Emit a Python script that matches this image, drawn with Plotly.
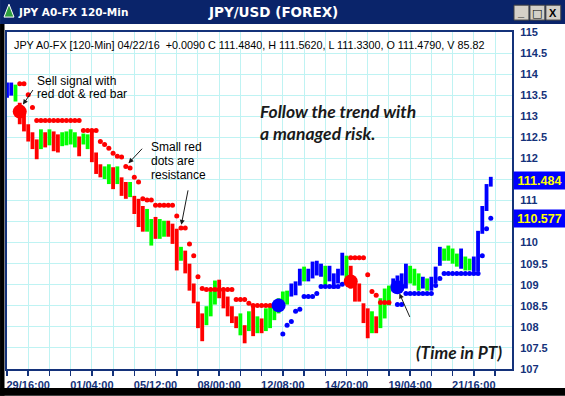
import plotly.graph_objects as go

# ---------------- data ----------------
# bar slots: one slot unit ~ one 120-min bar, one drawn bar every 2 slots
bar_slot = list(range(0, 230, 2))

bar_high = [
    113.80, 113.80, 113.75, 113.32, 113.16, 112.81, 112.62, 112.45, 112.69, 112.62,
    112.69, 112.64, 112.57, 112.62, 112.64, 112.69, 112.62, 112.52, 112.59, 112.57,
    112.64, 112.14, 111.86, 111.81, 111.86, 111.79, 111.81, 111.55, 111.44, 111.44,
    111.11, 111.04, 110.87, 110.80, 110.56, 110.61, 110.56, 110.52, 110.52, 110.45,
    110.33, 109.90, 109.81, 109.50, 109.03, 108.60, 108.32, 108.49, 108.84, 109.10,
    109.12, 108.91, 108.72, 108.49, 108.25, 108.32, 108.04, 108.37, 108.51, 108.25,
    108.20, 108.44, 108.49, 108.56, 108.68, 108.84, 108.86, 109.03, 109.08, 109.38,
    109.43, 109.38, 109.55, 109.57, 109.50, 109.45, 109.45, 109.27, 109.38, 109.76,
    109.69, 109.45, 109.15, 109.03, 108.56, 108.44, 108.37, 108.25, 108.68, 108.91,
    108.98, 109.15, 109.22, 109.27, 109.50, 109.45, 109.38, 109.27, 109.19, 109.15,
    109.19, 109.43, 109.90, 109.86, 109.93, 109.86, 109.74, 109.86, 109.67, 109.62,
    109.67, 110.28, 110.87, 111.39, 111.562,
]

bar_low = [
    113.44, 113.49, 113.35, 112.81, 112.64, 112.40, 112.22, 111.98, 112.22, 112.26,
    112.31, 112.17, 112.14, 112.29, 112.31, 112.33, 112.26, 112.05, 112.33, 112.22,
    111.91, 111.63, 111.55, 111.51, 111.39, 111.27, 111.39, 111.11, 111.04, 111.08,
    110.68, 110.37, 110.26, 110.26, 109.93, 110.09, 110.09, 110.14, 110.14, 109.97,
    109.34, 109.57, 109.27, 108.86, 108.56, 107.97, 107.66, 108.04, 108.25, 108.53,
    108.68, 108.44, 108.25, 108.09, 107.97, 107.80, 107.61, 107.90, 107.78, 107.85,
    107.85, 107.90, 107.97, 108.16, 108.32, 108.49, 108.53, 108.72, 108.75, 108.98,
    109.08, 109.08, 109.15, 109.22, 109.19, 108.98, 109.08, 108.91, 109.03, 109.22,
    109.08, 108.91, 108.60, 108.60, 108.09, 107.73, 107.85, 107.85, 107.97, 108.20,
    108.51, 108.84, 108.84, 108.86, 108.91, 109.03, 108.98, 108.86, 108.91, 108.86,
    108.86, 109.03, 109.45, 109.57, 109.57, 109.50, 109.43, 109.38, 109.34, 109.34,
    109.31, 109.31, 110.21, 110.75, 111.33,
]

# bar colour state: R = sell (red), G = neutral (green), B = buy (blue)
bar_state = list(
    "BBGRRRRRGR" "GRRGGGGRGG" "RRRGGRGRRG" "RRRGGRGGRR" "RGRRRRRGGG"
    "RRRRRGRGRG" "RGGGGGGBBB" "GBBBBGBBBB" "GRRRRRGRGG" "GBBBBGGGBG"
    "BBBGGGGBGG" "BBBBB"
)

N = None
red_stop = [
    N, N, N, 113.77, 113.77, 113.51, 113.21, 112.90, 112.90, 112.90,
    112.90, 112.90, 112.90, 112.90, 112.90, 112.90, 112.90, 112.90, 112.66, 112.66,
    112.66, 112.66, 112.40, 112.33, 112.24, 112.12, 112.05, 112.03, 111.81, 111.77,
    111.55, 111.44, 111.04, 111.01, 111.01, 110.89, 110.89, 110.89, 110.89, 110.89,
    110.63, 110.35, 110.35, 109.97, 109.69, 109.19, 108.91, 108.89, 108.89, 108.89,
    108.89, 108.89, 108.89, 108.89, 108.65, 108.65, 108.65, 108.56, 108.51, 108.51,
    108.51, 108.51, 108.51, 108.51, N, N, N, N, N, N,
    N, N, N, N, N, N, N, N, N, N,
    N, 109.64, 109.64, 109.64, 109.64, 109.24, 108.84, 108.75, 108.58, 108.58,
    108.58, N, N, N, N, N, N, N, N, N,
    N, N, N, N, N, N, N, N, N, N,
    N, N, N, N, N,
]

blue_stop = [
    N, N, N, N, N, N, N, N, N, N,
    N, N, N, N, N, N, N, N, N, N,
    N, N, N, N, N, N, N, N, N, N,
    N, N, N, N, N, N, N, N, N, N,
    N, N, N, N, N, N, N, N, N, N,
    N, N, N, N, N, N, N, N, N, N,
    N, N, N, N, N, 107.83, 108.04, 108.13, 108.37, 108.42,
    108.72, 108.72, 108.72, 108.79, 108.96, 108.96, 108.96, 108.96, 108.96, 109.01,
    N, N, N, N, N, N, N, N, N, N,
    N, N, 108.53, 108.53, 108.79, 108.79, 108.79, 108.79, 108.79, 108.79,
    108.79, 108.98, 109.15, 109.27, 109.27, 109.27, 109.27, 109.27, 109.27, 109.27,
    109.27, 109.27, 109.69, 110.33, 110.577,
]

signal_slot = [6, 128, 162, 184]
signal_price = [113.11, 108.51, 109.08, 108.94]
signal_side = ["sell", "buy", "sell", "buy"]

x_tick_slots = [0, 10, 20, 30, 40, 50, 60, 70, 80, 90, 100, 110,
                120, 130, 140, 150, 160, 170, 180, 190, 200, 210, 220, 230]
x_tick_labels = ["", "29/16:00", "", "", "01/04:00", "", "", "05/12:00", "", "",
                 "08/00:00", "", "", "12/08:00", "", "", "14/20:00", "", "",
                 "19/04:00", "", "", "21/16:00", ""]
y_tick_vals = [107, 107.5, 108, 108.5, 109, 109.5, 110, 110.5, 111, 111.5,
               112, 112.5, 113, 113.5, 114, 114.5, 115]
# 110.5 and 111.5 sit under the price flags
y_tick_text = ["107", "107.5", "108", "108.5", "109", "109.5", "110", "",
               "111", "", "112", "112.5", "113", "113.5", "114", "114.5", "115"]

last_close = 111.484
last_stop = 110.577
info_line = ("JPY A0-FX [120-Min] 04/22/16  +0.0090 C 111.4840, H 111.5620, "
             "L 111.3300, O 111.4790, V 85.82")

# ---------------- styling / layout helpers ----------------
W, H = 565, 396
L, R, T, B = 5, 512, 32, 371
NAVY = "#14327A"
GRID = "#BFF3F3"
COL = {"R": "#FF0000", "G": "#00FF00", "B": "#0000FF"}
SIDE_COL = {"sell": "#FF0000", "buy": "#0000FF"}
ARIAL = "Liberation Sans, Arial, sans-serif"
HUMAN = "Lato, Open Sans, sans-serif"


def px(x):
    return (x - L) / (R - L)


def py(y):
    return (B - y) / (B - T)


fig = go.Figure()

fig.add_trace(go.Bar(
    x=bar_slot,
    y=[h - l for h, l in zip(bar_high, bar_low)],
    base=bar_low,
    width=1.8,
    marker=dict(color=[COL[s] for s in bar_state], line=dict(width=0)),
    hoverinfo="skip",
))

fig.add_trace(go.Scatter(
    x=bar_slot, y=red_stop, mode="markers",
    marker=dict(color="#FF0000", size=5), hoverinfo="skip"))
fig.add_trace(go.Scatter(
    x=bar_slot, y=blue_stop, mode="markers",
    marker=dict(color="#0000FF", size=5), hoverinfo="skip"))
fig.add_trace(go.Scatter(
    x=signal_slot, y=signal_price, mode="markers",
    marker=dict(color=[SIDE_COL[s] for s in signal_side], size=14),
    hoverinfo="skip"))

shapes = []
# title bar
shapes.append(dict(type="rect", xref="paper", yref="paper",
                   x0=px(-2), x1=px(567), y0=py(24), y1=py(-2),
                   fillcolor="#0A246A", line=dict(width=0), layer="above"))
# window borders
shapes.append(dict(type="rect", xref="paper", yref="paper",
                   x0=px(-2), x1=px(2.5), y0=py(398), y1=py(24),
                   fillcolor="#000000", line=dict(width=0), layer="above"))
shapes.append(dict(type="rect", xref="paper", yref="paper",
                   x0=px(-2), x1=px(567), y0=py(398), y1=py(390),
                   fillcolor="#000000", line=dict(width=0), layer="above"))
# caption buttons
for bx in (514, 530, 546):
    shapes.append(dict(type="rect", xref="paper", yref="paper",
                       x0=px(bx), x1=px(bx + 15), y0=py(20), y1=py(5),
                       fillcolor="#D4D0C8", line=dict(color="#404040", width=1),
                       layer="above"))
# icon
shapes.append(dict(type="path", xref="paper", yref="paper",
                   path="M {} {} L {} {} L {} {} Z".format(px(2), py(17), px(7), py(4), px(12), py(17)),
                   fillcolor="#2E9E3E", line=dict(color="#FFFFFF", width=1), layer="above"))

annotations = []


def txt(x, y, s, size, color="#000000", family=ARIAL, weight="normal",
        style="normal", xanchor="left"):
    annotations.append(dict(
        x=px(x), y=py(y), xref="paper", yref="paper",
        text=s, showarrow=False, xanchor=xanchor, yanchor="middle",
        font=dict(size=size, color=color, family=family, weight=weight, style=style)))


def arrow(hx, hy, tx, ty):
    annotations.append(dict(
        x=px(hx), y=py(hy), xref="paper", yref="paper", text="",
        showarrow=True, ax=tx - hx, ay=ty - hy, arrowhead=2, arrowsize=1,
        arrowwidth=1, arrowcolor="#1A1A1A", standoff=0))


# title bar texts
txt(14, 12, "JPY A0-FX 120-Min", 10.5, "#FFFFFF", "DejaVu Sans", "bold")
txt(272, 12, "JPY/USD (FOREX)", 13.5, "#FFFFFF", "DejaVu Sans", "bold", xanchor="center")
txt(521.5, 12, "_", 11, "#000000", ARIAL, "bold", xanchor="center")
txt(537.5, 13, "□", 11, "#000000", "DejaVu Sans", "bold", xanchor="center")
txt(553.5, 12.5, "X", 11, "#000000", ARIAL, "bold", xanchor="center")

# info line
txt(10, 45, info_line, 10.8)

# notes
txt(33, 81, "Sell signal with", 12)
txt(33, 94.5, "red dot &amp; red bar", 12)
txt(148, 148, "Small red", 12)
txt(148, 162, "dots are", 12)
txt(148, 175.5, "resistance", 12)
txt(257, 112, "Follow the trend with", 17.5, "#1A1A1A", HUMAN, "bold", "italic")
txt(257, 134, "a managed risk.", 17.5, "#1A1A1A", HUMAN, "bold", "italic")
txt(414, 354, "(Time in PT)", 17.3, "#1A1A1A", HUMAN, "bold", "italic")

arrow(21, 105, 32, 89)
arrow(127, 164, 142, 148)
arrow(180, 226, 187, 190)
arrow(399, 295, 410, 320)

# price flags on the right axis
for val in (last_close, last_stop):
    annotations.append(dict(
        x=px(513), y=val, xref="paper", yref="y", text="{:.3f}".format(val),
        showarrow=False, xanchor="left", yanchor="middle", align="center",
        width=49, height=15, bgcolor="#0000FF", borderpad=1,
        font=dict(size=12.5, color="#FFFF00", family=ARIAL, weight="bold")))

fig.update_layout(
    width=W, height=H,
    margin=dict(l=L, r=W - R, t=T, b=H - B, pad=0),
    paper_bgcolor="#FFFFFF", plot_bgcolor="#FFFFFF",
    showlegend=False, barmode="overlay",
    shapes=shapes, annotations=annotations,
    xaxis=dict(range=[0, 238], tickvals=x_tick_slots, ticktext=x_tick_labels,
               ticks="outside", ticklen=5, tickwidth=1.5, tickcolor=NAVY,
               showgrid=True, gridcolor=GRID, gridwidth=1,
               showline=True, linecolor=NAVY, linewidth=2, mirror=True,
               zeroline=False, fixedrange=True,
               tickfont=dict(family=ARIAL, size=11, color=NAVY, weight="bold")),
    yaxis=dict(range=[107, 115], side="right", tickvals=y_tick_vals, ticktext=y_tick_text,
               ticks="", ticklabelstandoff=4,
               showgrid=True, gridcolor=GRID, gridwidth=1,
               showline=True, linecolor=NAVY, linewidth=2, mirror=True,
               zeroline=False, fixedrange=True,
               tickfont=dict(family=ARIAL, size=11, color=NAVY, weight="bold")),
)

fig.write_html(
    "out.html",
    config={"displayModeBar": False, "staticPlot": True},
    post_script="document.body.style.margin='0';document.body.style.overflow='hidden';",
)
